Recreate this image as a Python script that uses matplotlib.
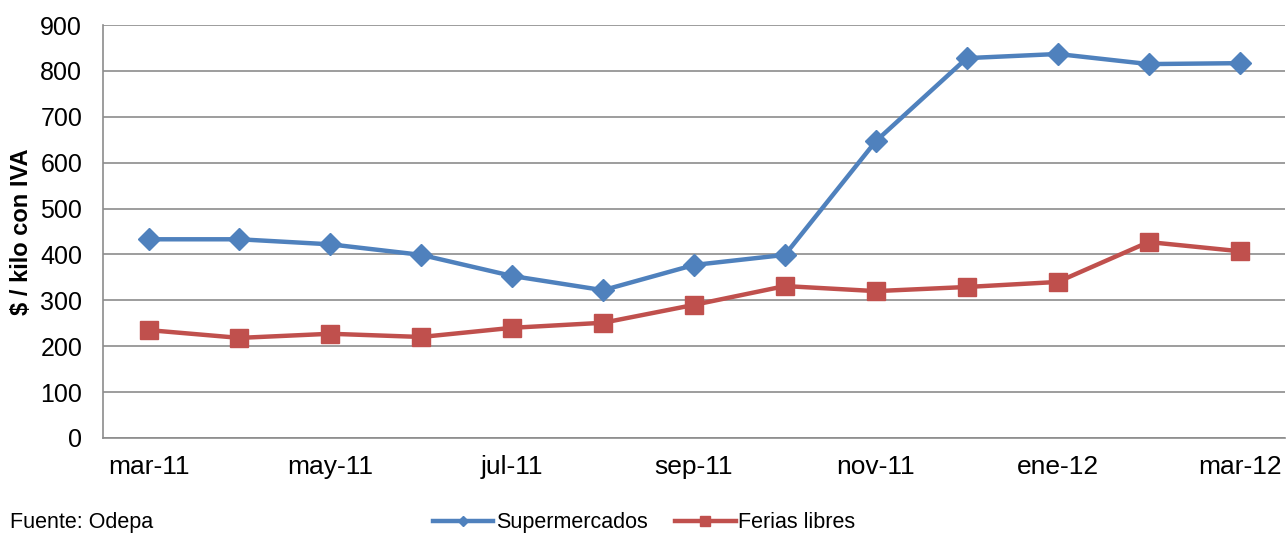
import matplotlib.pyplot as plt

plt.rcParams['font.family'] = ['Liberation Sans', 'DejaVu Sans']

months = ["mar-11", "abr-11", "may-11", "jun-11", "jul-11", "ago-11", "sep-11",
          "oct-11", "nov-11", "dic-11", "ene-12", "feb-12", "mar-12"]
supermercados = [433, 433, 422, 399, 353, 322, 377, 399, 647, 828, 837, 815, 817]
ferias = [235, 218, 227, 220, 240, 251, 290, 331, 320, 329, 340, 427, 407]

BLUE = "#4F81BD"
RED = "#C0504D"
GRID = "#8C8C8C"

fig = plt.figure(figsize=(12.88, 5.34), dpi=100)
ax = fig.add_axes([0.080, 0.180, 0.9177, 0.773])

x = list(range(len(months)))
ax.plot(x, supermercados, color=BLUE, lw=3.2, marker="D", ms=11, mfc=BLUE, mec=BLUE,
        label="Supermercados", zorder=3)
ax.plot(x, ferias, color=RED, lw=3.2, marker="s", ms=13, mfc=RED, mec=RED,
        label="Ferias libres", zorder=3)

ax.set_xlim(-0.5, len(months) - 0.5)
ax.set_ylim(0, 900)
ax.set_yticks(range(0, 901, 100))
ax.set_xticks(x[::2])
ax.set_xticklabels(months[::2])
ax.tick_params(axis="both", length=0, colors="black")
ax.tick_params(axis="y", labelsize=18, pad=15)
ax.tick_params(axis="x", labelsize=19, pad=12)
ax.yaxis.grid(True, color=GRID, lw=1.2)
ax.set_axisbelow(True)
for s in ["top", "right"]:
    ax.spines[s].set_visible(False)
for s in ["left", "bottom"]:
    ax.spines[s].set_color(GRID)
    ax.spines[s].set_linewidth(1.2)

ax.set_ylabel("$ / kilo con IVA", fontsize=17, fontweight="bold", labelpad=5)

fig.legend(loc="lower center", bbox_to_anchor=(0.5, -0.035), ncol=2, frameon=False,
           fontsize=15.5, handlelength=2.8, handletextpad=0.1, columnspacing=1.3,
           markerscale=0.5)
fig.text(0.008, 0.002, "Fuente: Odepa", fontsize=15.5, ha="left", va="bottom")

fig.savefig("out.png", dpi=100)
